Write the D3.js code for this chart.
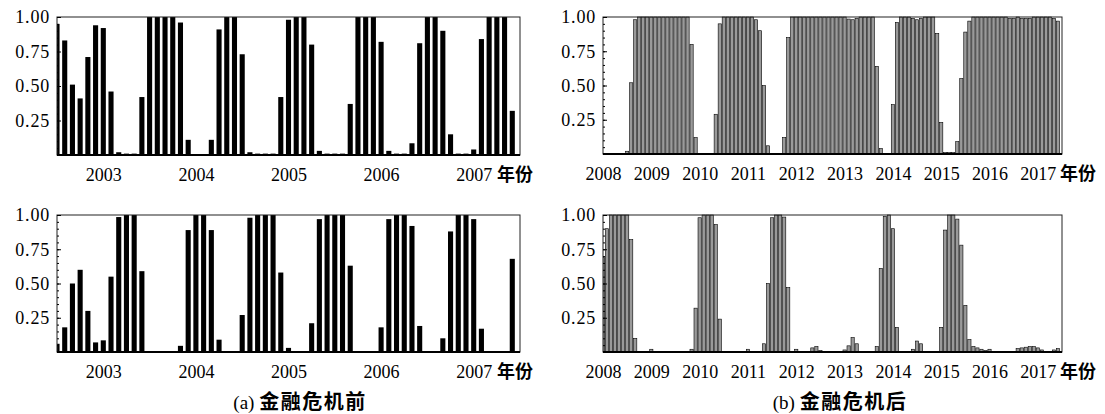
<!DOCTYPE html>
<html>
<head>
<meta charset="utf-8">
<script src="https://cdn.jsdelivr.net/npm/d3@7"></script>
<style>
  body { margin: 0; background: #fff; }
  svg { display: block; }
</style>
</head>
<body>
<svg id="chart" width="1105" height="414"></svg>
<script>
// monthly values, 2003-2007 (before the crisis)
const beforeTop = [
  0.95, 0.83, 0.51, 0.41, 0.71, 0.94, 0.92, 0.46, 0.02, 0.01, 0.01, 0.42,
  1, 1, 1, 1, 0.96, 0.11, 0.005, 0.005, 0.11, 0.91, 1, 1,
  0.73, 0.02, 0.01, 0.01, 0.01, 0.42, 0.98, 1, 1, 0.80, 0.03, 0.01,
  0.01, 0.01, 0.37, 1, 1, 1, 0.82, 0.03, 0.01, 0.01, 0.085, 0.81,
  1, 1, 0.90, 0.15, 0.01, 0.01, 0.04, 0.84, 1, 1, 1, 0.32
];
const beforeBottom = [
  0.06, 0.18, 0.50, 0.60, 0.30, 0.07, 0.085, 0.55, 0.985, 1, 1, 0.59,
  0.005, 0.005, 0.005, 0.005, 0.045, 0.89, 1, 1, 0.89, 0.09, 0.005, 0.005,
  0.27, 0.98, 1, 1, 1, 0.58, 0.03, 0.005, 0.005, 0.21, 0.97, 1,
  1, 1, 0.63, 0.005, 0.005, 0.005, 0.18, 0.97, 1, 1, 0.92, 0.19,
  0.005, 0.005, 0.10, 0.88, 1, 1, 0.97, 0.17, 0.005, 0.005, 0.005, 0.68
];
// monthly values, 2008-2017 (after the crisis)
const afterTop = [
  0.005, 0.005, 0.005, 0.005, 0.005, 0.005, 0.02, 0.52, 0.98, 1, 1, 1,
  1, 1, 1, 1, 1, 1, 1, 1, 1, 1, 0.80, 0.12,
  0.005, 0.005, 0.005, 0.005, 0.29, 0.95, 1, 1, 1, 1, 1, 1,
  1, 1, 0.98, 0.90, 0.50, 0.06, 0.005, 0.005, 0.005, 0.12, 0.85, 1,
  1, 1, 1, 1, 1, 1, 1, 1, 1, 1, 1, 1,
  1, 0.985, 0.98, 0.99, 1, 1, 1, 1, 0.64, 0.04, 0.005, 0.005,
  0.36, 0.96, 1, 1, 1, 0.99, 0.98, 0.99, 1, 1, 1, 0.88,
  0.23, 0.01, 0.01, 0.01, 0.09, 0.55, 0.89, 0.97, 1, 1, 1, 1,
  1, 1, 1, 1, 1, 0.99, 0.99, 1, 0.99, 0.99, 0.99, 1,
  1, 1, 1, 1, 0.99, 0.97
];
const afterBottom = [
  0.69, 0.90, 1, 1, 1, 1, 1, 0.82, 0.10, 0.005, 0.005, 0.005,
  0.02, 0.005, 0.005, 0.005, 0.005, 0.005, 0.005, 0.005, 0.005, 0.005, 0.02, 0.32,
  0.98, 1, 1, 1, 0.93, 0.24, 0.005, 0.005, 0.005, 0.005, 0.005, 0.005,
  0.02, 0.005, 0.005, 0.005, 0.06, 0.50, 0.98, 1, 1, 0.985, 0.47, 0.005,
  0.02, 0.005, 0.005, 0.005, 0.03, 0.04, 0.01, 0.005, 0.005, 0.005, 0.005, 0.005,
  0.015, 0.045, 0.105, 0.06, 0.005, 0.005, 0.005, 0.005, 0.04, 0.61, 0.99, 1,
  0.90, 0.18, 0.005, 0.005, 0.005, 0.02, 0.08, 0.06, 0.005, 0.005, 0.005, 0.005,
  0.18, 0.89, 1, 1, 0.97, 0.78, 0.34, 0.09, 0.04, 0.03, 0.02, 0.01,
  0.02, 0.005, 0.005, 0.005, 0.005, 0.005, 0.005, 0.025, 0.03, 0.035, 0.04, 0.04,
  0.03, 0.015, 0.005, 0.005, 0.015, 0.025
];

const beforeYears = ['2003', '2004', '2005', '2006', '2007'];
const afterYears = ['2008', '2009', '2010', '2011', '2012', '2013', '2014', '2015', '2016', '2017'];
const yTicks = [0.25, 0.50, 0.75, 1.00];
const unitLabel = '年份';
const captionTags = ['(a)', '(b)'];
const captionTexts = ['金融危机前', '金融危机后'];

const SERIF = '"Liberation Serif", "Times New Roman", "DejaVu Serif", serif';
const CJK = '"Noto Sans CJK SC", "Noto Sans CJK TC", sans-serif';

const svg = d3.select('#chart');

function drawPanel(id, values, years, yearOffset, box, style) {
  const n = values.length;
  const x = d3.scaleLinear().domain([0, n]).range([box.left, box.right]);
  const y = d3.scaleLinear().domain([0, 1]).range([box.bottom, box.top]);
  const step = x(1) - x(0);

  svg.append('clipPath').attr('id', 'clip-' + id)
    .append('rect')
    .attr('x', box.left).attr('y', box.top - 1)
    .attr('width', box.right - box.left).attr('height', box.bottom - box.top + 1);

  const g = svg.append('g');

  // bars
  g.append('g')
    .attr('clip-path', `url(#clip-${id})`)
    .selectAll('rect')
    .data(values)
    .join('rect')
    .attr('x', (d, i) => x(i) - step * style.width / 2)
    .attr('width', step * style.width)
    .attr('y', d => y(d))
    .attr('height', d => y(0) - y(d))
    .attr('fill', style.fill)
    .attr('stroke', style.stroke)
    .attr('stroke-width', style.strokeWidth);

  // frame
  g.append('rect')
    .attr('x', box.left).attr('y', box.top)
    .attr('width', box.right - box.left).attr('height', box.bottom - box.top)
    .attr('fill', 'none').attr('stroke', '#222').attr('stroke-width', 1);
  g.append('line')
    .attr('x1', box.left).attr('x2', box.right)
    .attr('y1', box.bottom).attr('y2', box.bottom)
    .attr('stroke', '#000').attr('stroke-width', 1.8);

  // y axis: minor ticks inside, labels outside
  g.append('g')
    .attr('transform', `translate(${box.left},0)`)
    .call(d3.axisLeft(y).tickValues(d3.range(0.05, 1, 0.05)).tickSize(-2).tickFormat(''))
    .call(a => a.select('.domain').remove());
  g.append('g')
    .attr('transform', `translate(${box.left},0)`)
    .call(d3.axisLeft(y).tickValues(yTicks).tickSize(-4).tickPadding(7).tickFormat(d3.format('.2f')))
    .attr('font-family', SERIF)
    .attr('font-size', 18)
    .call(a => a.select('.domain').remove())
    .call(a => a.selectAll('text')
      .style('font-family', SERIF)
      .style('letter-spacing', '0.8px')
      .attr('fill', '#000'));

  // x axis: year labels only
  g.append('g')
    .attr('transform', `translate(0,${box.bottom})`)
    .call(d3.axisBottom(x)
      .tickValues(years.map((d, i) => yearOffset + i * 12))
      .tickSize(0).tickPadding(13)
      .tickFormat((d, i) => years[i]))
    .attr('font-family', SERIF)
    .attr('font-size', 18)
    .call(a => a.select('.domain').remove())
    .call(a => a.selectAll('text')
      .style('font-family', SERIF)
      .attr('fill', '#000'));

  g.append('text')
    .attr('x', box.unitX)
    .attr('y', box.bottom + 26)
    .style('font-family', CJK)
    .style('font-weight', 700)
    .style('font-size', '18px')
    .text(unitLabel);
}

const blackBars = { width: 0.66, fill: '#000', stroke: 'none', strokeWidth: 0 };
const outlineBars = { width: 0.8, fill: '#9a9a9a', stroke: '#000', strokeWidth: 0.6 };

drawPanel('a1', beforeTop, beforeYears, 6, { left: 57, right: 520, top: 17, bottom: 155, unitX: 497 }, blackBars);
drawPanel('a2', beforeBottom, beforeYears, 6, { left: 57, right: 520, top: 215, bottom: 352, unitX: 497 }, blackBars);
drawPanel('b1', afterTop, afterYears, 0, { left: 603, right: 1062, top: 17, bottom: 154, unitX: 1060 }, outlineBars);
drawPanel('b2', afterBottom, afterYears, 0, { left: 603, right: 1062, top: 215, bottom: 352, unitX: 1060 }, outlineBars);

// captions
const cap = svg.selectAll('.caption')
  .data(captionTexts)
  .join('text')
  .attr('class', 'caption')
  .attr('x', (d, i) => i === 0 ? 300 : 840)
  .attr('y', 409)
  .attr('text-anchor', 'middle');
cap.append('tspan')
  .style('font-family', SERIF)
  .style('font-size', '19px')
  .text((d, i) => captionTags[i] + ' ');
cap.append('tspan')
  .style('font-family', CJK)
  .style('font-weight', 700)
  .style('font-size', '20px')
  .style('letter-spacing', '1.5px')
  .text(d => d);
</script>
</body>
</html>
